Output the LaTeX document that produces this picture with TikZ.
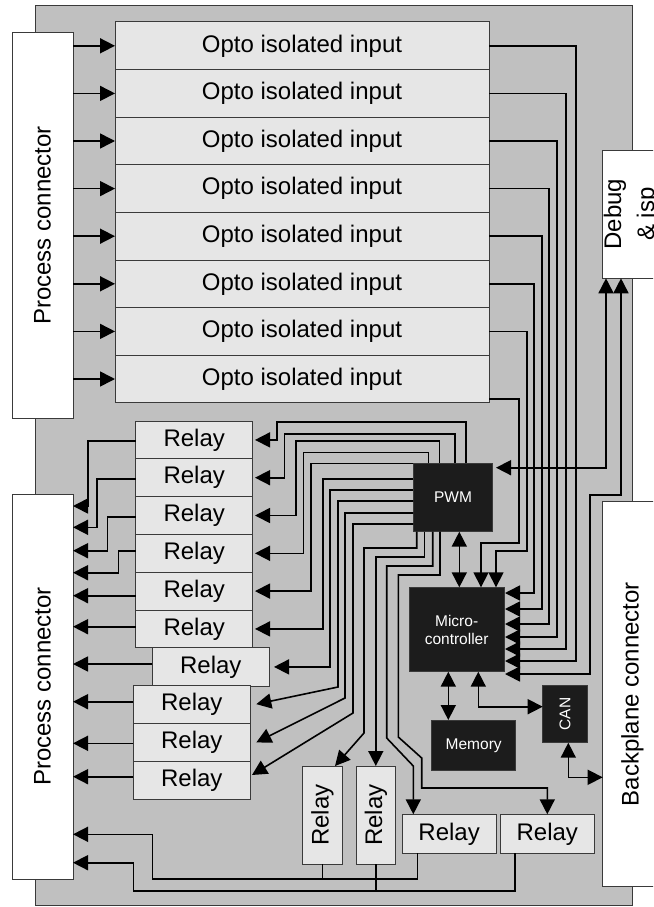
\documentclass[tikz,border=0pt]{standalone}
\usepackage{fontspec}
\setmainfont{Liberation Sans}
\usetikzlibrary{arrows.meta}
\definecolor{boardc}{HTML}{C0C0C0}
\definecolor{boxfill}{HTML}{E6E6E6}
\definecolor{darkc}{HTML}{1C1C1C}
\definecolor{edgec}{HTML}{3A3A3A}
\begin{document}
\begin{tikzpicture}[x=1pt,y=-1pt,
  every node/.style={inner sep=0pt,outer sep=0pt},
  boardbox/.style={draw=edgec,fill=boardc,line width=1pt},
  conn/.style={draw=edgec,fill=white,line width=1pt,font=\fontsize{24}{27}\selectfont},
  lbl/.style={font=\fontsize{24}{33}\selectfont},
  lbox/.style={draw=edgec,fill=boxfill,line width=1pt,font=\fontsize{24}{27}\selectfont},
  rbox/.style={lbox,minimum width=117pt,minimum height=37.8pt,anchor=north west},
  vbox/.style={lbox,minimum width=39.6pt,minimum height=98pt,anchor=north west},
  dbox/.style={draw=edgec,fill=darkc,text=white,line width=1pt,font=\fontsize{15.5}{18}\selectfont,anchor=north west},
  wire/.style={line width=1.6pt,black},
  arr/.style={wire,-{Triangle[length=15pt,width=15pt]}},
  dbl/.style={wire,{Triangle[length=15pt,width=15pt]}-{Triangle[length=15pt,width=15pt]}}]
\clip (0,0) rectangle (653,907);
\fill[white] (0,0) rectangle (653,907);
% board
\node[boardbox,minimum width=597pt,minimum height=899pt,anchor=north west] (bd) at (35,6) {};
% connectors
\node[conn,minimum width=61pt,minimum height=385pt,anchor=north west] (pc1) at (12,33) {\rotatebox{90}{Process connector}};
\node[conn,minimum width=61pt,minimum height=385pt,anchor=north west] (pc2) at (12,494) {\rotatebox{90}{Process connector}};
\node[conn,minimum width=60pt,minimum height=128.3pt,anchor=north west] (dbg) at (602.3,150) {};
\node[lbl] (dbgl) at (631,214.2) {\rotatebox{90}{\begin{tabular}{@{}c@{}}Debug\\\& isp\end{tabular}}};
\node[conn,minimum width=60pt,minimum height=385pt,anchor=north west] (bp) at (602.7,501.7) {};
\node[lbl] (bpl) at (632.5,694.2) {\rotatebox{90}{Backplane connector}};
% opto inputs
\foreach \i in {1,...,8}{
  \node[lbox,minimum width=374pt,minimum height=47.6pt,anchor=north west] (o\i) at (115,{22+(\i-1)*47.6}) {Opto isolated input};
  \draw[arr] (pc1.east |- o\i.west) -- (o\i.west);
}
% relays
\foreach \i/\y in {1/421,2/458.8,3/496.6,4/534.4,5/572.2,6/610}{
  \node[rbox] (r\i) at (135.7,\y) {Relay};
}
\node[rbox,minimum height=38.2pt] (r7) at (152.3,647.8) {Relay};
\foreach \i/\y in {8/685,9/723.3,10/761.6}{
  \node[rbox,minimum height=38.3pt] (r\i) at (133.3,\y) {Relay};
}
\node[vbox] (ra) at (302.7,766) {\rotatebox{90}{Relay}};
\node[vbox] (rb) at (356,766) {\rotatebox{90}{Relay}};
\node[rbox,minimum width=93.7pt,minimum height=39pt] (rc) at (402.3,814.3) {Relay};
\node[rbox,minimum width=94pt,minimum height=39pt] (rd) at (500.3,814.3) {Relay};
% dark blocks
\node[dbox,minimum width=79.4pt,minimum height=68.4pt] (pwm) at (413.3,463.3) {PWM};
\node[dbox,minimum width=94.7pt,minimum height=84.4pt,align=center] (mc) at (409.3,587.3) {Micro-\\controller};
\node[dbox,minimum width=84pt,minimum height=50.7pt] (mem) at (431.7,720) {Memory};
\node[dbox,minimum width=44.6pt,minimum height=57.7pt] (can) at (542.7,685) {\rotatebox{90}{CAN}};
% PWM top -> relays 1-4
\draw[arr] (pwm.north -| 466,0) |- (276.7,422) |- ([xshift=2.3pt]r1.east);
\draw[arr] (pwm.north -| 455,0) |- (284.3,434) |- ([xshift=2.3pt]r2.east);
\draw[arr] (pwm.north -| 439.3,0) |- (296,441) |- ([xshift=2.3pt]r3.east);
\draw[arr] (pwm.north -| 428.3,0) |- (303.3,452.5) |- ([xshift=2.3pt]r4.east);
% PWM left -> relays 5-10
\draw[arr] (pwm.west |- 0,463.3) -| (r5.east -| 311,0) -- ([xshift=2.3pt]r5.east);
\draw[arr] (pwm.west |- 0,479) -| (r6.east -| 322.7,0) -- ([xshift=2.3pt]r6.east);
\draw[arr] (pwm.west |- 0,490) -| (r7.east -| 330,0) -- ([xshift=4.7pt]r7.east);
\draw[arr] (pwm.west |- 0,501) -- (338,501) -- (338,687) -- ([xshift=6pt]r8.east);
\draw[arr] (pwm.west |- 0,513) -- (345,513) -- (345,698) -- ([xshift=6pt]r9.east);
\draw[arr] (pwm.west |- 0,524) -- (353,524) -- (353,713) -- (252,775);
% PWM bottom -> bottom relays
\draw[arr] (pwm.south -| 416.7,0) |- (364,548) -- (364,733) -- (ra.north -| 335,0);
\draw[arr] (pwm.south -| 424.5,0) |- (rb.north |- 0,557) -- (rb.north);
\draw[arr] (pwm.south -| 432.7,0) |- (386.7,566) -- (386.7,738) -- (413.3,766) -- (rc.north -| 413.3,0);
\draw[arr] (pwm.south -| 440,0) |- (398.3,575) -- (398.3,737) -- (421.7,758) -- (421.7,788) -| (rd.north);
% relay outputs to process connector
\draw[arr] (r1.west |- 0,441) -| (88,506) -- (pc2.east |- 0,506);
\draw[arr] (r2.west |- 0,479) -| (96.7,527.3) -- (pc2.east |- 0,527.3);
\draw[arr] (r3.west |- 0,516.7) -| (107.3,550.7) -- (pc2.east |- 0,550.7);
\draw[arr] (r4.west |- 0,550.7) -| (118.3,572.7) -- (pc2.east |- 0,572.7);
\draw[arr] (r5.west |- 0,595.7) -- (pc2.east |- 0,595.7);
\draw[arr] (r6.west |- 0,626.7) -- (pc2.east |- 0,626.7);
\draw[arr] (r7.west |- 0,664) -- (pc2.east |- 0,664);
\draw[arr] (r8.west |- 0,701.7) -- (pc2.east |- 0,701.7);
\draw[arr] (r9.west |- 0,743.3) -- (pc2.east |- 0,743.3);
\draw[arr] (r10.west |- 0,776.7) -- (pc2.east |- 0,776.7);
% bottom relay outputs
\draw[arr] (rc.south -| 417.3,0) |- (152.3,879) |- (pc2.east |- 0,834.3);
\draw[wire] (ra.south) -- (ra.south |- 0,879);
\draw[arr] (rd.south -| 515,0) |- (133.3,890.7) |- (pc2.east |- 0,862.7);
\draw[wire] (rb.south) -- (rb.south |- 0,890.7);
% opto outputs to micro-controller
\draw[arr] (o8.east |- 0,399) -| (519,543) -| (mc.north -| 481,0);
\draw[arr] (o7.east) -| (527,551) -| (mc.north -| 496,0);
\foreach \i/\x/\y in {1/576/661,2/566/649,3/557/637,4/549/624,5/542/609,6/534/593}{
  \draw[arr] (o\i.east) -| (\x,\y) -- (505,\y);
}
% debug links
\draw[dbl] (496,467.7) -| (dbg.south -| 606,0);
\draw[dbl] (505,674) -| (590,495) -| (dbg.south -| 621,0);
% internal links
\draw[dbl] (pwm.south -| 459.3,0) -- (mc.north -| 459.3,0);
\draw[dbl] (mc.south -| 448.3,0) -- (mem.north -| 448.3,0);
\draw[dbl] (mc.south -| 478.3,0) |- (can.west |- 0,706.7);
\draw[dbl] (can.south -| 568.3,0) |- (bp.west |- 0,777.3);
\end{tikzpicture}
\end{document}
